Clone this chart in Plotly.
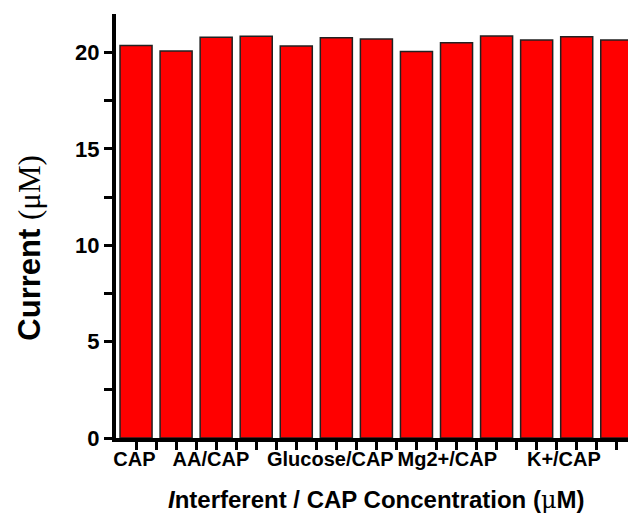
import plotly.graph_objects as go

bar_positions = list(range(1, 14))
current_values = [20.37, 20.08, 20.80, 20.84, 20.34, 20.77, 20.70, 20.06, 20.51, 20.86, 20.65, 20.82, 20.65]
label_positions = [0.96, 2.87, 5.85, 8.77, 11.68]
label_texts = ["CAP", "AA/CAP", "Glucose/CAP", "Mg2+/CAP", "K+/CAP"]
minor_tick_positions = [0.5 + 0.5 * i for i in range(1, 27)]
y_ticks = [0, 5, 10, 15, 20]

FONT = "Liberation Sans, Arial, sans-serif"

fig = go.Figure()
fig.add_trace(go.Bar(
    x=bar_positions, y=current_values, width=0.8,
    marker=dict(color="#FF0000", line=dict(color="#222222", width=1.5)),
    showlegend=False,
))

fig.update_layout(
    width=628, height=508,
    margin=dict(l=108, r=0, t=6, b=78),
    paper_bgcolor="white", plot_bgcolor="white",
    font=dict(family=FONT, color="black"),
    xaxis=dict(
        range=[0.5, 13.48], automargin=False,
        showline=True, linecolor="black", linewidth=4,
        tickmode="array", tickvals=label_positions, ticktext=label_texts,
        ticks="outside", ticklen=0, tickwidth=0,
        tickfont=dict(family=FONT, size=20, color="black", weight="bold"),
        minor=dict(tickmode="array", tickvals=minor_tick_positions, ticks="outside",
                   ticklen=8, tickwidth=3, tickcolor="black"),
        showgrid=False, zeroline=False,
    ),
    yaxis=dict(
        range=[0, 22], automargin=False,
        showline=True, linecolor="black", linewidth=4,
        tickmode="array", tickvals=y_ticks,
        ticks="outside", ticklen=8, tickwidth=3, tickcolor="black",
        tickfont=dict(family=FONT, size=22, color="black", weight="bold"),
        minor=dict(dtick=2.5, ticks="outside", ticklen=8, tickwidth=3, tickcolor="black"),
        showgrid=False, zeroline=False,
    ),
    annotations=[
        dict(
            text="<i>I</i>nterferent / CAP Concentration (<span style='font-family:DejaVu Serif;font-weight:normal'>μ</span>M)",
            xref="paper", yref="paper", x=0.5, y=-0.108, xanchor="center", yanchor="top",
            showarrow=False,
            font=dict(family=FONT, size=24, color="black", weight="bold"),
        ),
        dict(
            text="Current <span style='font-family:Liberation Serif;font-weight:normal'>(μM)</span>",
            xref="paper", yref="paper", x=-0.167, y=0.447, xanchor="center", yanchor="middle",
            textangle=-90, showarrow=False,
            font=dict(family=FONT, size=31, color="black", weight="bold"),
        ),
    ],
)

fig.write_html("out.html")
